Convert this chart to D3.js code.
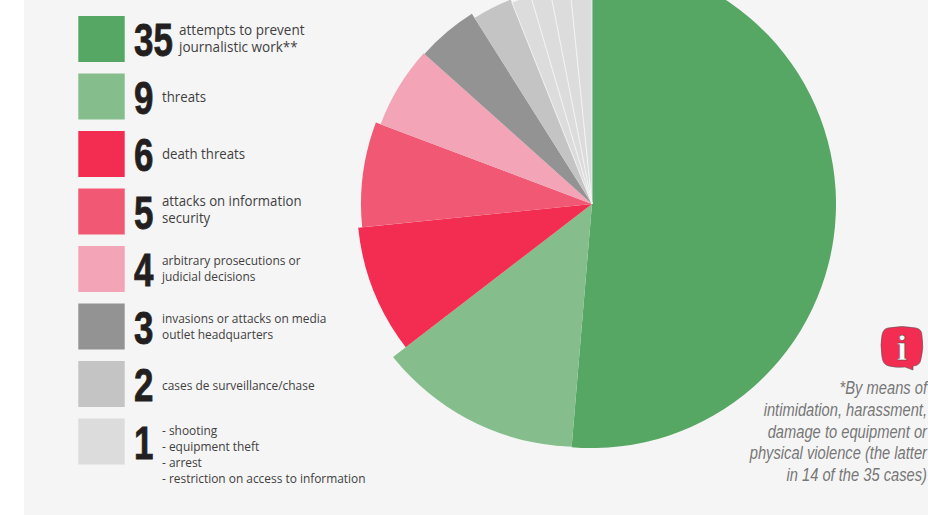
<!DOCTYPE html>
<html>
<head>
<meta charset="utf-8">
<style>
  html, body { margin: 0; padding: 0; background: #fff; }
  svg { display: block; }
  .num { font-family: "Liberation Sans", sans-serif; font-weight: 700; fill: #231f20; }
  .lab { font-family: "Open Sans", sans-serif; fill: #3f3f3f; }
  .note { font-family: "Liberation Sans", sans-serif; font-style: italic; fill: #777; font-size: 17.5px; text-anchor: end; }
</style>
<script src="https://cdn.jsdelivr.net/npm/d3@7"></script>
</head>
<body>
<svg id="chart" width="928" height="515"></svg>
<script>
// Incidents by type, in pie order; the last four slices are one case each
const sliceValues = [35, 9, 6, 5, 4, 3, 2, 1, 1, 1, 1];
const sliceColors = ["#56a763", "#85bd8c", "#f22d51", "#f15873", "#f3a4b6", "#939393", "#c4c4c4", "#dcdcdc", "#dcdcdc", "#dcdcdc", "#dcdcdc"];
const sliceRadii = [244, 262, 235, 231, 226, 225, 220, 217, 217, 217, 217];

const legendCounts = ["35", "9", "6", "5", "4", "3", "2", "1"];
const legendColors = ["#56a763", "#85bd8c", "#f22d51", "#f15873", "#f3a4b6", "#939393", "#c4c4c4", "#dcdcdc"];
const legendLabels = [
  ["attempts to prevent", "journalistic work**"],
  ["threats"],
  ["death threats"],
  ["attacks on information", "security"],
  ["arbitrary prosecutions or", "judicial decisions"],
  ["invasions or attacks on media", "outlet headquarters"],
  ["cases de surveillance/chase"],
  ["- shooting", "- equipment theft", "- arrest", "- restriction on access to information"]
];
const noteLines = ["*By means of", "intimidation, harassment,", "damage to equipment or", "physical violence (the latter", "in 14 of the 35 cases)"];

const svg = d3.select("#chart");
svg.append("rect").attr("x", 24).attr("y", 0).attr("width", 904).attr("height", 515).attr("fill", "#f5f5f5");

// The "threats" slice has an off-centre rim, cut by this circle
svg.append("clipPath").attr("id", "threats-rim")
  .append("circle").attr("cx", -12.4).attr("cy", 4.5).attr("r", 238.4);

// Pie: every slice has its own outer radius; the wheel sits half a degree back
const turn = -0.5 * Math.PI / 180;
const pie = d3.pie().sort(null).value(d => d)
  .startAngle(turn).endAngle(2 * Math.PI + turn)(sliceValues);
pie[0].startAngle = 0;
pie[pie.length - 1].endAngle = 2 * Math.PI;
const arc = d3.arc().innerRadius(0).outerRadius(d => sliceRadii[d.index]);
svg.append("g").attr("transform", "translate(592,204)")
  .selectAll("path").data(pie).join("path")
  .attr("d", d => arc(d))
  .attr("fill", d => sliceColors[d.index])
  .attr("clip-path", d => d.index === 1 ? "url(#threats-rim)" : null)
  .attr("stroke", d => d.value === 1 ? "#f5f5f5" : "none")
  .attr("stroke-width", 0.8);

// Legend rows
const rowY = d3.scaleLinear().domain([0, 7]).range([16, 418.5]);
const firstBaseline = [35, 102, 159, 206, 265, 323, 390, 435];
const lineGap = [17, 0, 0, 17, 16, 16, 0, 16];
const fontSize = [14.3, 14, 14, 14, 12.6, 12.6, 12.6, 12.6];
const row = svg.append("g").selectAll("g").data(legendCounts).join("g");

row.append("rect")
  .attr("x", 78.3).attr("y", (d, i) => rowY(i))
  .attr("width", 46.4).attr("height", 46)
  .attr("fill", (d, i) => legendColors[i]);

row.append("text").attr("class", "num")
  .attr("transform", (d, i) => `translate(134,${rowY(i) + 40}) scale(0.76,1)`)
  .attr("font-size", 46)
  .attr("stroke", "#231f20").attr("stroke-width", 0.8)
  .text(d => d);

row.each(function (d, i) {
  const x = i === 0 ? 179 : 162;
  d3.select(this).selectAll("text.lab").data(legendLabels[i]).join("text")
    .attr("class", "lab")
    .attr("transform", (t, j) => `translate(${x},${firstBaseline[i] + j * lineGap[i]}) scale(0.945,1)`)
    .attr("font-size", fontSize[i])
    .text(t => t);
});

// Footnote with its info badge
svg.append("g").selectAll("text").data(noteLines).join("text")
  .attr("class", "note")
  .attr("transform", (d, i) => `translate(927,${394 + i * 21.75}) scale(0.84,1)`)
  .text(d => d);

const badge = svg.append("g").attr("transform", "translate(902,348)");
badge.append("path")
  .attr("d", "M-14,-20 Q0,-23 14,-20 Q20,-19 20,-12 Q22,0 19,11 Q18,18 11,18 L11,22 L3,19 Q-6,20 -13,18 Q-19,17 -20,9 Q-22,-4 -20,-13 Q-19,-19 -14,-20 Z")
  .attr("fill", "#f22d51")
  .attr("stroke", "#555")
  .attr("stroke-width", 0.6);
badge.append("text")
  .attr("text-anchor", "middle").attr("y", 12)
  .attr("font-family", "Liberation Serif, serif").attr("font-weight", 700)
  .attr("font-size", 36)
  .attr("fill", "#fff").attr("stroke", "#444").attr("stroke-width", 0.5)
  .text("i");
</script>
</body>
</html>
